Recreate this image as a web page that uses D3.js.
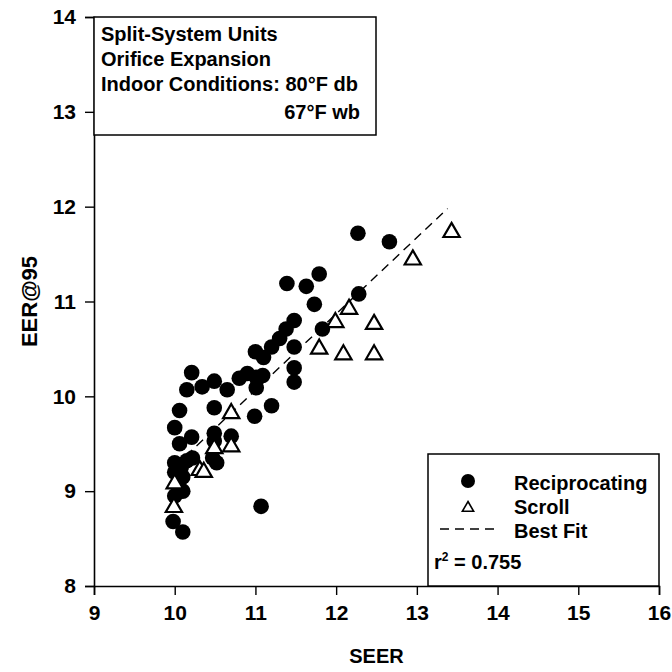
<!DOCTYPE html>
<html><head><meta charset="utf-8">
<script src="https://cdn.jsdelivr.net/npm/d3@7"></script>
<style>
html,body{margin:0;padding:0;background:#fff;}
svg text{font-family:"Liberation Sans",Arial,sans-serif;font-weight:bold;fill:#000;}
</style></head><body>
<svg id="c" width="672" height="672"></svg>
<script>
// Reciprocating (SEER, EER@95)
const recipSEER = [10.00,10.06,10.06,10.21,10.00,10.00,10.05,10.00,10.10,10.08,10.15,10.22,10.47,10.52,9.98,10.10,10.49,10.49,10.70,10.21,10.15,10.34,10.49,10.65,10.80,10.90,11.01,11.01,10.49,10.99,11.20,11.00,11.10,11.20,11.30,11.38,11.48,11.48,11.48,11.48,11.07,11.39,11.63,11.73,11.79,11.83,12.28,12.27,12.66,11.09,10.10];
const recipEER  = [9.67,9.85,9.50,9.57,9.30,9.20,9.10,8.95,9.00,9.25,9.32,9.35,9.35,9.30,8.68,8.57,9.61,9.53,9.58,10.25,10.07,10.10,10.16,10.07,10.19,10.24,10.20,10.09,9.88,9.79,9.90,10.47,10.41,10.52,10.61,10.71,10.80,10.52,10.30,10.15,8.84,11.19,11.16,10.97,11.29,10.71,11.08,11.72,11.63,10.22,9.15];
// Scroll
const scrollSEER = [9.99,10.00,10.31,10.36,10.49,10.70,10.70,11.79,11.99,12.16,12.47,12.09,12.47,12.95,13.43];
const scrollEER  = [8.83,9.08,9.22,9.20,9.45,9.47,9.82,10.50,10.78,10.92,10.76,10.44,10.44,11.44,11.73];
// Best fit line endpoints
const fitSEER = [10.00, 13.38];
const fitEER  = [9.26, 11.98];
// Axis ticks
const xTicks = [9,10,11,12,13,14,15,16];
const yTicks = [8,9,10,11,12,13,14];
const noteLines = ["Split-System Units","Orifice Expansion","Indoor Conditions: 80°F db","67°F wb"];
const legendLabels = ["Reciprocating","Scroll","Best Fit"];

const svg = d3.select("#c");
const x = d3.scaleLinear().domain([9,16]).range([94,659]);
const y = d3.scaleLinear().domain([8,14]).range([586,17]);
const FS = 20;

// minor ticks
const xMinor = d3.range(9,16.001,0.2).filter(v=>Math.abs(v-Math.round(v))>1e-6);
const yMinor = d3.range(8,14.001,0.2).filter(v=>Math.abs(v-Math.round(v))>1e-6);

const gx = svg.append("g").attr("transform",`translate(0,${y(8)})`);
gx.call(d3.axisBottom(x).tickValues(xMinor).tickSize(5).tickFormat(""));
gx.call(d3.axisBottom(x).tickValues(xTicks).tickSize(9).tickPadding(10).tickFormat(d3.format("d")));
const gy = svg.append("g").attr("transform",`translate(${x(9)},0)`);
gy.call(d3.axisLeft(y).tickValues(yMinor).tickSize(5).tickFormat(""));
gy.call(d3.axisLeft(y).tickValues(yTicks).tickSize(9).tickPadding(9).tickFormat(d3.format("d")));
svg.selectAll(".domain").attr("stroke","#000").attr("stroke-width",1.6);
svg.selectAll(".tick line").attr("stroke","#000").attr("stroke-width",1.4);
svg.selectAll(".tick text").attr("font-size",21).attr("font-family",'"Liberation Sans",Arial,sans-serif').attr("font-weight","bold");

// axis titles
svg.append("text").attr("x",(x(9)+x(16))/2).attr("y",663).attr("text-anchor","middle").attr("font-size",FS).text("SEER");
svg.append("text").attr("transform",`translate(37,${(y(8)+y(14))/2}) rotate(-90)`).attr("text-anchor","middle").attr("font-size",22).text("EER@95");

// best fit
svg.append("line").attr("x1",x(fitSEER[0])).attr("y1",y(fitEER[0])).attr("x2",x(fitSEER[1])).attr("y2",y(fitEER[1]))
  .attr("stroke","#000").attr("stroke-width",1.4).attr("stroke-dasharray","9,6");

// circles
svg.append("g").selectAll("circle").data(recipSEER.map((s,i)=>[s,recipEER[i]])).join("circle")
  .attr("cx",d=>x(d[0])).attr("cy",d=>y(d[1])).attr("r",7.8).attr("fill","#000");

// triangles
const tri = d3.symbol().type(d3.symbolTriangle).size(115);
svg.append("g").selectAll("path").data(scrollSEER.map((s,i)=>[s,scrollEER[i]])).join("path")
  .attr("d",tri).attr("transform",d=>`translate(${x(d[0])},${y(d[1])})`)
  .attr("fill","#fff").attr("stroke","#000").attr("stroke-width",2.2);

// note box
svg.append("rect").attr("x",x(9)).attr("y",y(14)).attr("width",376-x(9)).attr("height",135-y(14))
  .attr("fill","#fff").attr("stroke","#000").attr("stroke-width",1.5);
const nb = [41,66,91,119];
noteLines.forEach((t,i)=>{
  const el = svg.append("text").attr("font-size",FS).attr("y",nb[i]);
  if(i===3){ el.attr("x",360).attr("text-anchor","end"); } else { el.attr("x",101); }
  el.text(t);
});

// legend box
svg.append("rect").attr("x",428).attr("y",454).attr("width",x(16)-428).attr("height",y(8)-454)
  .attr("fill","#fff").attr("stroke","#000").attr("stroke-width",1.5);
svg.append("circle").attr("cx",468).attr("cy",481).attr("r",7).attr("fill","#000");
svg.append("path").attr("d",d3.symbol().type(d3.symbolTriangle).size(55)).attr("transform","translate(468,508)")
  .attr("fill","#fff").attr("stroke","#000").attr("stroke-width",1.6);
svg.append("line").attr("x1",440).attr("x2",498).attr("y1",529).attr("y2",529).attr("stroke","#000").attr("stroke-width",1.4).attr("stroke-dasharray","9,6");
const lb=[490,514,538];
legendLabels.forEach((t,i)=>svg.append("text").attr("x",514).attr("y",lb[i]).attr("font-size",FS).text(t));
const r2 = svg.append("text").attr("x",434).attr("y",569).attr("font-size",FS);
r2.append("tspan").text("r");
r2.append("tspan").attr("dy",-8).attr("font-size",12).text("2");
r2.append("tspan").attr("dy",8).text(" = 0.755");
</script></body></html>
